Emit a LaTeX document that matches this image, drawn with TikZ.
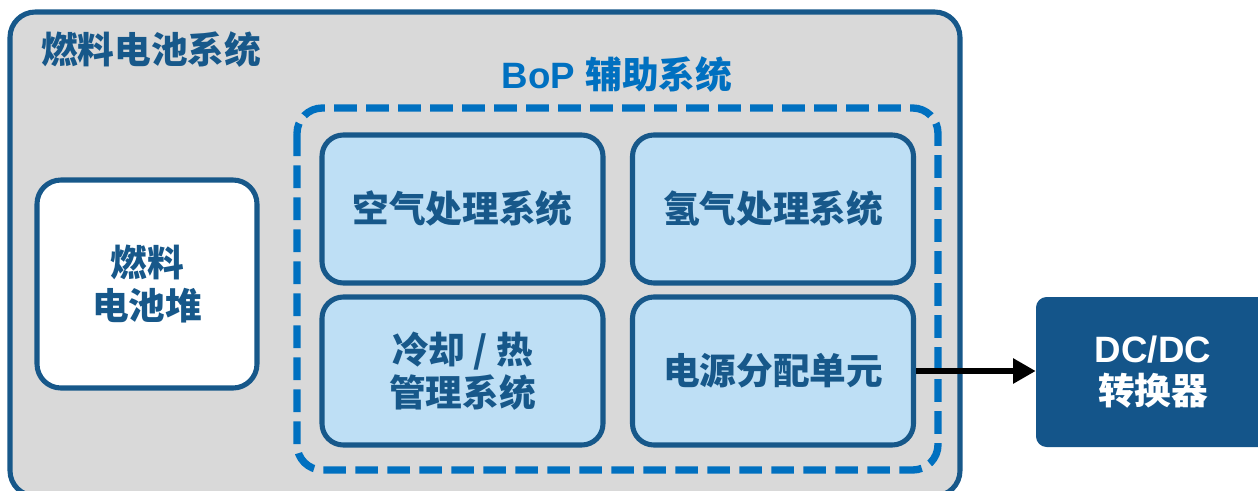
\documentclass[tikz,border=0pt]{standalone}
\usepackage{fontspec}
\setmainfont{Liberation Sans}
\newfontfamily\cjk{Noto Sans CJK SC}
\newfontfamily\lat{Liberation Sans}
\usetikzlibrary{arrows.meta}
\definecolor{darkblue}{HTML}{17588A}
\definecolor{dcblue}{HTML}{14558A}
\definecolor{midblue}{HTML}{0070C0}
\definecolor{lightblue}{HTML}{BEDFF5}
\definecolor{panelgray}{HTML}{D9D9D9}
\tikzset{
  big/.style={font=\fontsize{27.5pt}{32pt}\selectfont\bfseries},
  subbox/.style={draw=darkblue, line width=3.8pt, fill=lightblue, rounded corners=16pt,
    minimum width=210.75pt, minimum height=111pt, text=darkblue, big, align=center, inner sep=0pt},
}
\begin{document}
\begin{tikzpicture}[x=0.75pt, y=-0.75pt]
\useasboundingbox (0,0) rectangle (1258,490);
% outer panel
\draw[draw=darkblue, line width=3.8pt, fill=panelgray, rounded corners=19pt] (10,12) rectangle (960,496);
\node[anchor=west, text=darkblue, big, inner sep=0pt] (title) at (41,50) {\cjk 燃料电池系统};
% BoP dashed region
\draw[draw=midblue, line width=5.5pt, rounded corners=19pt, dash pattern=on 17pt off 7pt] (297,108) rectangle (938,470);
\node[text=midblue, big, inner sep=0pt] (bop) at (617,75) {\lat BoP \cjk 辅助系统};
% stack
\node[draw=darkblue, line width=3.8pt, fill=white, rounded corners=18pt, minimum width=165pt, minimum height=156pt,
  text=darkblue, big, align=center, inner sep=0pt] (stack) at (147,284) {\cjk 燃料\\\cjk 电池堆};
% sub boxes
\node[subbox] (air) at (462.5,209) {\cjk 空气处理系统};
\node[subbox] (h2) at (773,209) {\cjk 氢气处理系统};
\node[subbox] (cool) at (462.5,371) {\cjk 冷却 / 热\\\cjk 管理系统};
\node[subbox] (pdu) at (773,371) {\cjk 电源分配单元};
% DC/DC
\node[fill=dcblue, rounded corners=8pt, minimum width=175.5pt, minimum height=112.5pt, text=white, big,
  align=center, inner sep=0pt] (dc) at (1153,372) {\lat DC/DC\\\cjk 转换器};
\draw[line width=4.5pt, -{Triangle[length=17pt,width=18pt]}] (pdu.east) -- (pdu.east -| dc.west);
\end{tikzpicture}
\end{document}
